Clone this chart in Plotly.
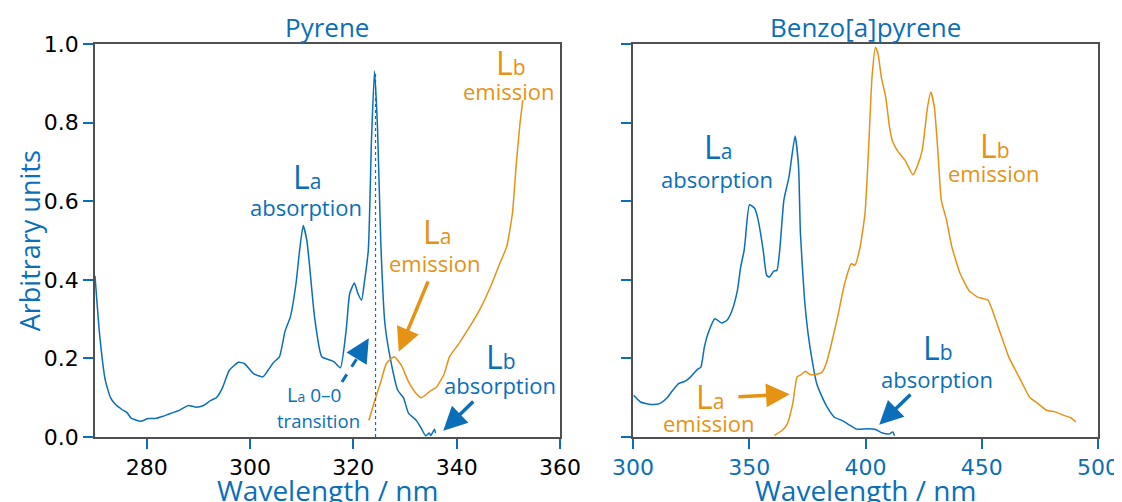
import plotly.graph_objects as go

BLUE = "#0a6fb8"
ORANGE = "#e69214"
SPINE = "#505050"

# ---------------- data ----------------
pyr_abs_nm = [270.0, 270.9, 272.0, 273.0, 273.8, 275.2, 276.2, 277.0, 278.8, 280.3, 281.7, 283.0,
              284.6, 286.0, 287.4, 288.1, 289.5, 291.0, 292.4, 293.5, 294.6, 296.0, 297.8, 298.9,
              300.7, 302.5, 303.5, 304.6, 305.7, 306.8, 307.8, 308.9, 309.6, 310.3, 311.0, 311.5,
              312.5, 313.9, 315.7, 316.4, 317.5, 318.6, 319.3, 320.2, 320.9, 321.6, 322.1, 322.9,
              323.5, 324.1, 324.7, 325.3, 326.1, 327.1, 328.6, 329.7, 330.7, 332.2, 333.2, 334.0,
              334.7, 335.0, 335.7, 335.9]
pyr_abs_val = [0.41, 0.26, 0.144, 0.10, 0.085, 0.07, 0.062, 0.048, 0.040, 0.047, 0.047, 0.052,
               0.060, 0.066, 0.076, 0.080, 0.076, 0.080, 0.093, 0.100, 0.123, 0.170, 0.190, 0.187,
               0.161, 0.153, 0.170, 0.190, 0.204, 0.270, 0.305, 0.390, 0.475, 0.538, 0.50, 0.44,
               0.305, 0.204, 0.195, 0.190, 0.176, 0.270, 0.365, 0.392, 0.365, 0.348, 0.390, 0.475,
               0.75, 0.931, 0.78, 0.50, 0.29, 0.204, 0.119, 0.100, 0.060, 0.042, 0.021, 0.003,
               0.010, 0.004, 0.020, 0.010]

pyr_em_nm = [323.0, 324.2, 325.4, 326.4, 327.9, 329.3, 330.7, 332.2, 333.2, 334.7, 336.1, 337.6,
             338.6, 340.4, 342.5, 344.7, 346.8, 348.3, 349.7, 350.8, 351.5, 352.2, 352.8]
pyr_em_val = [0.042, 0.095, 0.144, 0.187, 0.204, 0.182, 0.140, 0.110, 0.100, 0.115, 0.127, 0.161,
              0.204, 0.237, 0.280, 0.330, 0.390, 0.440, 0.485, 0.570, 0.688, 0.790, 0.857]

bap_abs_nm = [300.3, 303.2, 307.7, 311.4, 314.4, 316.6, 319.6, 322.5, 324.8, 327.7, 329.2, 330.7,
              332.5, 335.2, 338.2, 340.4, 342.6, 344.9, 346.3, 347.8, 348.3, 350.1, 352.3, 353.8,
              356.0, 357.5, 358.7, 360.5, 361.9, 363.1, 364.9, 367.1, 369.7, 371.2, 372.0, 373.8,
              375.3, 376.8, 379.0, 381.3, 383.5, 386.5, 390.2, 393.2, 396.1, 400.6, 404.3, 407.3,
              410.3, 411.7, 412.5]
bap_abs_val = [0.106, 0.089, 0.083, 0.085, 0.098, 0.115, 0.136, 0.142, 0.153, 0.172, 0.178, 0.229,
               0.267, 0.301, 0.290, 0.297, 0.322, 0.373, 0.432, 0.475, 0.502, 0.591, 0.582, 0.553,
               0.475, 0.411, 0.407, 0.422, 0.424, 0.475, 0.603, 0.662, 0.766, 0.688, 0.519, 0.348,
               0.263, 0.204, 0.136, 0.102, 0.076, 0.051, 0.041, 0.030, 0.020, 0.021, 0.019, 0.010,
               0.008, 0.013, 0.003]

bap_em_nm = [360.8, 364.2, 366.4, 368.7, 370.6, 372.4, 374.2, 376.1, 378.3, 381.3, 383.1, 385.0,
             388.0, 391.0, 393.9, 395.4, 397.6, 399.8, 401.3, 402.8, 404.3, 405.4, 406.8, 408.7,
             410.3, 411.7, 414.0, 416.9, 418.4, 420.4, 422.2, 424.4, 426.7, 428.1, 429.6, 431.1,
             432.6, 434.8, 437.1, 440.7, 444.5, 448.2, 452.7, 455.6, 458.6, 461.6, 464.5, 467.5,
             470.5, 474.2, 477.9, 481.6, 485.3, 488.3, 490.5]
bap_em_val = [0.004, 0.017, 0.034, 0.085, 0.153, 0.159, 0.167, 0.159, 0.159, 0.165, 0.187, 0.229,
              0.305, 0.390, 0.441, 0.437, 0.481, 0.570, 0.730, 0.916, 0.992, 0.975, 0.916, 0.865,
              0.790, 0.751, 0.726, 0.705, 0.688, 0.667, 0.688, 0.730, 0.840, 0.878, 0.840, 0.730,
              0.603, 0.553, 0.485, 0.416, 0.373, 0.356, 0.348, 0.305, 0.254, 0.204, 0.170, 0.136,
              0.102, 0.085, 0.068, 0.064, 0.055, 0.049, 0.038]

la_00_nm = 324.3
la_00_top = 0.93

titles = ["Pyrene", "Benzo[a]pyrene"]
y_ticks = [0.0, 0.2, 0.4, 0.6, 0.8, 1.0]
x1_ticks = [280, 300, 320, 340, 360]
x2_ticks = [300, 350, 400, 450, 500]

# ---------------- figure ----------------
fig = go.Figure()
line_kw = dict(width=1.5, shape="spline", smoothing=0.5)
fig.add_trace(go.Scatter(x=pyr_abs_nm, y=pyr_abs_val, mode="lines",
                         line=dict(color=BLUE, **line_kw), xaxis="x", yaxis="y"))
fig.add_trace(go.Scatter(x=pyr_em_nm, y=pyr_em_val, mode="lines",
                         line=dict(color=ORANGE, **line_kw), xaxis="x", yaxis="y"))
fig.add_trace(go.Scatter(x=bap_abs_nm, y=bap_abs_val, mode="lines",
                         line=dict(color=BLUE, **line_kw), xaxis="x2", yaxis="y2"))
fig.add_trace(go.Scatter(x=bap_em_nm, y=bap_em_val, mode="lines",
                         line=dict(color=ORANGE, **line_kw), xaxis="x2", yaxis="y2"))

TICKFONT = dict(family="DejaVu Sans", size=22, color="black")
axis_common = dict(showline=True, linecolor=SPINE, linewidth=1.6, mirror=True,
                   ticks="outside", ticklen=10, tickwidth=2, tickcolor=BLUE,
                   showgrid=False, zeroline=False, automargin=False)

# the page body adds an 8px offset at the top-left; the figure runs a little past
# the right edge of the window so the last tick label is not clipped
fig.update_layout(
    width=1130, height=494,
    margin=dict(l=87, r=40, t=36, b=65, autoexpand=False),
    plot_bgcolor="white", paper_bgcolor="white",
    showlegend=False,
    xaxis=dict(domain=[0, 0.4636], range=[270, 360], tickvals=x1_ticks,
               tickfont=TICKFONT, anchor="y", **axis_common),
    yaxis=dict(domain=[0, 1], range=[0, 1.0], tickvals=y_ticks, tickformat=".1f",
               tickfont=TICKFONT, anchor="x", **axis_common),
    xaxis2=dict(domain=[0.5364, 1], range=[300, 500], tickvals=x2_ticks,
                tickfont=dict(family="DejaVu Sans", size=22, color=BLUE), anchor="y2",
                ticklabeloverflow="allow", **axis_common),
    yaxis2=dict(domain=[0, 1], range=[0, 1.0], tickvals=y_ticks, showticklabels=False,
                anchor="x2", **axis_common),
)

TXT = "Open Sans"
anns = []


def label(text, x, y, color, size=22, xref="x", yref="y"):
    anns.append(dict(text=text, x=x, y=y, xref=xref, yref=yref, showarrow=False,
                     xanchor="center", yanchor="middle",
                     font=dict(family=TXT, size=size, color=color)))


def big_l(sub, color):
    return f"<span style='font-size:32px'>L</span><span style='font-size:21px'>{sub}</span>"


def arrow(x, y, ax, ay, color, xref="x", yref="y"):
    anns.append(dict(text="", x=x, y=y, ax=ax, ay=ay, xref=xref, yref=yref,
                     axref=xref, ayref=yref, showarrow=True, arrowhead=2,
                     arrowsize=1.35, arrowwidth=3.5, arrowcolor=color, standoff=0))


# titles
for i, t in enumerate(titles):
    xr = "x domain" if i == 0 else "x2 domain"
    anns.append(dict(text=t, x=0.5, y=1.0, xref=xr, yref="paper", yshift=17, showarrow=False,
                     xanchor="center", yanchor="middle", font=dict(family=TXT, size=26, color=BLUE)))
    anns.append(dict(text="Wavelength / nm", x=0.5, y=-0.135, xref=xr, yref="paper", showarrow=False,
                     xanchor="center", yanchor="middle", font=dict(family=TXT, size=28, color=BLUE)))
anns.append(dict(text="Arbitrary units", x=-0.065, y=0.5, xref="paper", yref="paper", showarrow=False,
                 textangle=-90, xanchor="center", yanchor="middle",
                 font=dict(family=TXT, size=27, color=BLUE)))

# left panel labels
label(big_l("a", BLUE), 311.0, 0.664, BLUE)
label("absorption", 310.8, 0.585, BLUE)
label(big_l("a", ORANGE), 336.2, 0.522, ORANGE)
label("emission", 335.9, 0.443, ORANGE)
label(big_l("b", ORANGE), 350.5, 0.954, ORANGE)
label("emission", 350.2, 0.880, ORANGE)
label(big_l("b", BLUE), 348.6, 0.206, BLUE)
label("absorption", 348.3, 0.132, BLUE)
label("<span style='font-size:20px'>L</span><span style='font-size:14px'>a</span> 0–0",
      312.3, 0.107, BLUE, size=19)
label("transition", 313.2, 0.043, BLUE, size=18.5)

arrow(328.8, 0.217, 334.6, 0.40, ORANGE)
arrow(337.4, 0.016, 343.5, 0.094, BLUE)
arrow(323.0, 0.251, 321.6, 0.2206, BLUE)

# right panel labels
label(big_l("a", BLUE), 336.6, 0.738, BLUE, xref="x2", yref="y2")
label("absorption", 336.3, 0.656, BLUE, xref="x2", yref="y2")
label(big_l("b", ORANGE), 455.7, 0.743, ORANGE, xref="x2", yref="y2")
label("emission", 455.3, 0.672, ORANGE, xref="x2", yref="y2")
label(big_l("a", ORANGE), 333.0, 0.104, ORANGE, xref="x2", yref="y2")
label("emission", 332.6, 0.036, ORANGE, xref="x2", yref="y2")
label(big_l("b", BLUE), 431.1, 0.229, BLUE, xref="x2", yref="y2")
label("absorption", 430.7, 0.148, BLUE, xref="x2", yref="y2")

arrow(367.4, 0.109, 344.7, 0.102, ORANGE, xref="x2", yref="y2")
arrow(405.9, 0.031, 420.0, 0.112, BLUE, xref="x2", yref="y2")

fig.update_layout(annotations=anns)

# dashed shaft of La 0-0 arrow and dotted marker line
fig.add_shape(type="line", x0=317.8, y0=0.14, x1=321.7, y1=0.2206, xref="x", yref="y",
              line=dict(color=BLUE, width=3, dash="dash"))
fig.add_shape(type="line", x0=la_00_nm, y0=0, x1=la_00_nm, y1=la_00_top, xref="x", yref="y",
              line=dict(color=BLUE, width=1.2, dash="dot"))

fig.write_html("out.html")
